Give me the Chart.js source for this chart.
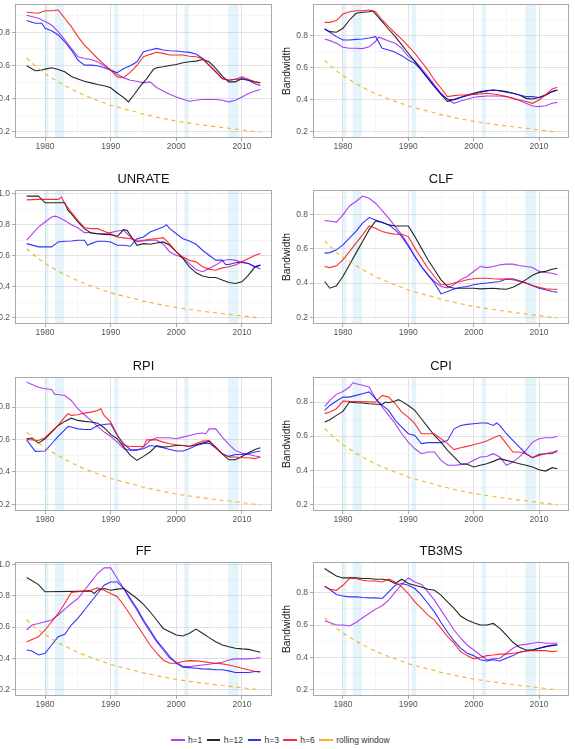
<!DOCTYPE html>
<html>
<head>
<meta charset="utf-8">
<script src="https://cdn.jsdelivr.net/npm/chart.js@4.4.1/dist/chart.umd.min.js"></script>
<style>
html,body{margin:0;padding:0;background:#fff;width:575px;height:749px;overflow:hidden;position:relative;font-family:'Liberation Sans',Arial,sans-serif}
canvas{position:absolute}
#legend{position:absolute;left:171px;top:733px;height:14px;display:flex;align-items:center;font-size:8.5px;color:#333;white-space:nowrap}
#legend .key{display:inline-block;width:13.5px;height:1.2px;margin-right:3.4px}
#legend .lab{margin-right:4.6px}
</style>
</head>
<body>
<div id="legend"></div>
<script>
// ---------------- data ----------------
const seriesNames = ['h=1', 'h=12', 'h=3', 'h=6', 'rolling window'];
const panelTitles = ['', '', 'UNRATE', 'CLF', 'RPI', 'CPI', 'FF', 'TB3MS'];
const xTickValues = [1975, 1980, 1985, 1990, 1995, 2000, 2005, 2010, 2015];
const yTickValues = [0.2, 0.3, 0.4, 0.5, 0.6, 0.7, 0.8, 0.9, 1.0];
const recessions = [[1980.0, 1980.5], [1981.5, 1982.9], [1990.5, 1991.2], [2001.2, 2001.9], [2007.9, 2009.5]];

const rolling = [[1977.2,0.645],[1978,0.615],[1979,0.58],[1980,0.55],[1981,0.525],[1982,0.50],[1983,0.478],[1984,0.457],[1985,0.437],[1986,0.42],[1987,0.404],[1988,0.389],[1989,0.375],[1990,0.36],[1991,0.349],[1992,0.338],[1993,0.328],[1994,0.318],[1995,0.306],[1996,0.297],[1997,0.288],[1998,0.28],[1999,0.272],[2000,0.264],[2001,0.258],[2002,0.252],[2003,0.246],[2004,0.241],[2005,0.235],[2006,0.23],[2007,0.225],[2008,0.221],[2009,0.216],[2010,0.211],[2011,0.206],[2012,0.201],[2012.8,0.197]];

// panel 1 (top-left)
const P1_h1 = [[1977.2,0.903],[1979,0.885],[1980,0.865],[1981,0.844],[1982,0.804],[1983,0.754],[1984,0.703],[1985,0.653],[1986,0.642],[1987,0.636],[1988,0.622],[1989,0.598],[1990,0.572],[1991,0.547],[1992,0.525],[1993,0.511],[1994,0.505],[1995,0.495],[1996,0.501],[1997,0.467],[1998,0.446],[1999,0.426],[2000,0.41],[2001,0.396],[2002,0.384],[2003,0.39],[2004,0.394],[2005,0.394],[2006,0.394],[2007,0.39],[2008,0.38],[2009,0.39],[2010,0.41],[2011,0.43],[2012,0.446],[2012.8,0.455]];
const P1_h12 = [[1977.2,0.598],[1978.5,0.568],[1979.5,0.572],[1980,0.578],[1981,0.586],[1982,0.576],[1983,0.562],[1984,0.533],[1985,0.518],[1986,0.505],[1987,0.495],[1988,0.485],[1989,0.477],[1990,0.465],[1991,0.434],[1992,0.406],[1992.7,0.38],[1993.5,0.42],[1994.5,0.475],[1995.5,0.521],[1996.5,0.576],[1997,0.586],[1998,0.592],[1999,0.60],[2000,0.606],[2001,0.616],[2002,0.622],[2003,0.626],[2004,0.636],[2005,0.622],[2006,0.582],[2007,0.535],[2008,0.501],[2009,0.501],[2010,0.521],[2011,0.511],[2012,0.501],[2012.8,0.495]];
const P1_h3 = [[1977.2,0.871],[1978.5,0.855],[1979.5,0.855],[1980,0.824],[1981,0.81],[1982,0.784],[1983,0.743],[1984,0.693],[1985,0.632],[1986,0.602],[1987,0.602],[1988,0.598],[1989,0.586],[1990,0.572],[1991,0.556],[1992,0.582],[1993,0.598],[1994,0.622],[1995,0.683],[1996,0.693],[1997,0.703],[1998,0.693],[1999,0.689],[2000,0.687],[2001,0.683],[2002,0.679],[2003,0.669],[2004,0.642],[2005,0.602],[2006,0.562],[2007,0.521],[2008,0.511],[2009,0.517],[2010,0.517],[2011,0.511],[2012,0.49],[2012.8,0.479]];
const P1_h6 = [[1977.2,0.921],[1979,0.915],[1980,0.93],[1981,0.93],[1982,0.935],[1983,0.885],[1984,0.834],[1985,0.774],[1986,0.723],[1987,0.683],[1988,0.642],[1989,0.606],[1990,0.572],[1991,0.531],[1992,0.527],[1993,0.56],[1994,0.60],[1995,0.653],[1996,0.667],[1997,0.68],[1998,0.673],[1999,0.663],[2000,0.663],[2001,0.663],[2002,0.656],[2003,0.653],[2004,0.64],[2005,0.60],[2006,0.562],[2007,0.52],[2008,0.511],[2009,0.517],[2010,0.531],[2011,0.517],[2012,0.50],[2012.8,0.497]];

// panel 2 (top-right)
const P2_h1 = [[1977.2,0.779],[1978,0.769],[1979,0.752],[1980,0.727],[1981,0.721],[1982,0.721],[1983,0.719],[1984,0.73],[1985,0.765],[1985.5,0.79],[1986,0.783],[1987,0.767],[1988,0.752],[1989,0.721],[1990,0.669],[1991,0.644],[1992,0.596],[1993,0.544],[1994,0.492],[1995,0.44],[1996,0.402],[1997,0.377],[1998,0.392],[1999,0.402],[2000,0.415],[2001,0.419],[2002,0.423],[2003,0.423],[2004,0.423],[2005,0.419],[2006,0.408],[2007,0.394],[2008,0.377],[2009,0.36],[2010,0.356],[2011,0.362],[2012,0.377],[2012.8,0.383]];
const P2_h12 = [[1977.2,0.842],[1978,0.825],[1979,0.821],[1980,0.846],[1981,0.898],[1982,0.94],[1983,0.946],[1984,0.95],[1984.5,0.956],[1985,0.935],[1986,0.888],[1987,0.84],[1988,0.794],[1989,0.742],[1990,0.69],[1991,0.638],[1992,0.585],[1993,0.533],[1994,0.481],[1995,0.433],[1996,0.388],[1997,0.402],[1998,0.415],[1999,0.429],[2000,0.44],[2001,0.45],[2002,0.456],[2003,0.46],[2004,0.456],[2005,0.45],[2006,0.44],[2007,0.429],[2008,0.408],[2009,0.404],[2010,0.413],[2011,0.429],[2012,0.45],[2012.8,0.46]];
const P2_h3 = [[1977.2,0.842],[1978,0.821],[1979,0.794],[1980,0.773],[1981,0.773],[1982,0.777],[1983,0.779],[1984,0.785],[1985,0.794],[1986,0.721],[1987,0.71],[1988,0.696],[1989,0.675],[1990,0.648],[1991,0.627],[1992,0.585],[1993,0.533],[1994,0.481],[1995,0.435],[1996,0.402],[1997,0.398],[1998,0.413],[1999,0.425],[2000,0.435],[2001,0.444],[2002,0.454],[2003,0.46],[2004,0.454],[2005,0.446],[2006,0.44],[2007,0.429],[2008,0.419],[2009,0.419],[2010,0.413],[2011,0.429],[2012,0.45],[2012.8,0.46]];
const P2_h6 = [[1977.2,0.883],[1978,0.883],[1979,0.894],[1980,0.935],[1981,0.95],[1982,0.956],[1983,0.956],[1984,0.96],[1985,0.95],[1986,0.898],[1987,0.856],[1988,0.815],[1989,0.777],[1990,0.735],[1991,0.69],[1992,0.638],[1993,0.585],[1994,0.523],[1995,0.471],[1996,0.419],[1997,0.425],[1998,0.429],[1999,0.429],[2000,0.433],[2001,0.435],[2002,0.44],[2003,0.435],[2004,0.429],[2005,0.419],[2006,0.408],[2007,0.398],[2008,0.388],[2009,0.377],[2010,0.398],[2011,0.429],[2012,0.467],[2012.8,0.477]];

// UNRATE
const P3_h1 = [[1977.2,0.70],[1979,0.785],[1980,0.818],[1981,0.85],[1981.5,0.856],[1982,0.85],[1983,0.828],[1984,0.80],[1985,0.781],[1986,0.749],[1987,0.749],[1988,0.742],[1989,0.742],[1990,0.749],[1991,0.76],[1992,0.764],[1993,0.721],[1994,0.689],[1995,0.695],[1996,0.70],[1997,0.70],[1998,0.674],[1999,0.624],[2000,0.603],[2001,0.588],[2002,0.549],[2003,0.51],[2004,0.496],[2005,0.517],[2006,0.539],[2007,0.567],[2008,0.575],[2009,0.571],[2010,0.554],[2011,0.549],[2012,0.528],[2012.8,0.513]];
const P3_h12 = [[1977.2,0.985],[1979,0.985],[1980,0.942],[1983,0.942],[1983.5,0.893],[1984,0.871],[1985,0.818],[1986,0.775],[1987,0.747],[1988,0.742],[1989,0.738],[1990,0.736],[1991,0.725],[1992,0.768],[1992.5,0.764],[1993,0.732],[1994,0.667],[1995,0.678],[1996,0.674],[1997,0.682],[1998,0.689],[1999,0.667],[2000,0.624],[2001,0.582],[2002,0.528],[2003,0.489],[2004,0.468],[2005,0.459],[2006,0.459],[2007,0.442],[2008,0.427],[2009,0.42],[2010,0.431],[2011,0.474],[2012,0.528],[2012.8,0.539]];
const P3_h3 = [[1977.2,0.678],[1979,0.657],[1981,0.657],[1982,0.689],[1983,0.693],[1984,0.695],[1985,0.70],[1986,0.70],[1986.5,0.667],[1987,0.678],[1988,0.693],[1989,0.693],[1990,0.689],[1991,0.667],[1992,0.667],[1993,0.661],[1994,0.71],[1995,0.721],[1996,0.753],[1997,0.77],[1998,0.785],[1998.5,0.80],[1999,0.775],[2000,0.742],[2001,0.71],[2002,0.695],[2003,0.674],[2004,0.635],[2005,0.603],[2006,0.571],[2007,0.571],[2007.5,0.543],[2008,0.543],[2009,0.554],[2010,0.56],[2011,0.549],[2012,0.528],[2012.8,0.539]];
const P3_h6 = [[1977.2,0.961],[1979,0.964],[1982,0.964],[1982.5,0.979],[1983,0.936],[1984,0.882],[1985,0.828],[1986,0.781],[1987,0.775],[1988,0.775],[1989,0.758],[1990,0.742],[1991,0.721],[1992,0.715],[1993,0.71],[1994,0.70],[1995,0.70],[1996,0.706],[1997,0.71],[1998,0.717],[1999,0.674],[2000,0.624],[2001,0.592],[2002,0.571],[2003,0.56],[2004,0.528],[2005,0.513],[2006,0.506],[2007,0.521],[2008,0.528],[2009,0.539],[2010,0.56],[2011,0.582],[2012,0.603],[2012.8,0.614]];

// CLF
const P4_h1 = [[1977.2,0.763],[1978,0.761],[1979,0.754],[1980,0.796],[1981,0.848],[1982,0.874],[1983,0.906],[1984,0.893],[1985,0.864],[1986,0.821],[1987,0.777],[1988,0.728],[1989,0.68],[1990,0.622],[1991,0.554],[1992,0.496],[1993,0.448],[1994,0.409],[1995,0.38],[1996,0.372],[1997,0.392],[1998,0.419],[1999,0.438],[2000,0.467],[2001,0.496],[2002,0.49],[2003,0.496],[2004,0.506],[2005,0.51],[2006,0.51],[2007,0.502],[2008,0.496],[2009,0.49],[2010,0.467],[2011,0.461],[2012,0.457],[2012.8,0.448]];
const P4_h12 = [[1977.2,0.409],[1978,0.37],[1979,0.384],[1980,0.438],[1981,0.506],[1982,0.574],[1983,0.641],[1984,0.709],[1985,0.761],[1986,0.752],[1987,0.738],[1988,0.732],[1990,0.732],[1991,0.67],[1992,0.603],[1993,0.535],[1994,0.477],[1995,0.419],[1996,0.38],[1997,0.37],[2000,0.37],[2001,0.366],[2003,0.37],[2004,0.366],[2005,0.364],[2006,0.375],[2007,0.395],[2008,0.42],[2009,0.445],[2010,0.462],[2011,0.468],[2012,0.48],[2012.8,0.486]];
const P4_h3 = [[1977.2,0.574],[1978,0.577],[1979,0.593],[1980,0.622],[1981,0.661],[1982,0.70],[1983,0.748],[1984,0.781],[1985,0.767],[1986,0.754],[1987,0.738],[1988,0.709],[1989,0.67],[1990,0.614],[1991,0.554],[1992,0.496],[1993,0.448],[1994,0.40],[1995,0.337],[1996,0.351],[1997,0.365],[1998,0.376],[1999,0.38],[2000,0.39],[2001,0.396],[2002,0.40],[2003,0.405],[2004,0.409],[2005,0.423],[2006,0.425],[2007,0.413],[2008,0.40],[2009,0.384],[2010,0.37],[2011,0.361],[2012,0.351],[2012.8,0.347]];
const P4_h6 = [[1977.2,0.496],[1978,0.49],[1979,0.50],[1980,0.535],[1981,0.583],[1982,0.632],[1983,0.68],[1984,0.732],[1985,0.719],[1986,0.70],[1987,0.69],[1988,0.684],[1989,0.684],[1990,0.67],[1991,0.603],[1992,0.545],[1993,0.486],[1994,0.438],[1995,0.39],[1996,0.39],[1997,0.40],[1998,0.409],[1999,0.419],[2000,0.425],[2001,0.428],[2002,0.428],[2003,0.425],[2004,0.423],[2005,0.423],[2006,0.419],[2007,0.409],[2008,0.40],[2009,0.386],[2010,0.376],[2011,0.366],[2012,0.364],[2012.8,0.364]];

// RPI
const P5_h1 = [[1977.2,0.954],[1979,0.923],[1980,0.913],[1981,0.909],[1981.5,0.878],[1982,0.878],[1983,0.872],[1984,0.841],[1985,0.79],[1986,0.753],[1987,0.718],[1988,0.681],[1989,0.646],[1990,0.619],[1991,0.584],[1992,0.543],[1993,0.533],[1994,0.533],[1995,0.553],[1996,0.594],[1997,0.611],[1998,0.611],[1999,0.611],[2000,0.605],[2001,0.615],[2002,0.625],[2003,0.636],[2004,0.64],[2004.5,0.636],[2005,0.666],[2006,0.666],[2007,0.615],[2008,0.57],[2009,0.533],[2010,0.516],[2011,0.508],[2012,0.498],[2012.8,0.492]];
const P5_h12 = [[1977.2,0.605],[1978,0.609],[1979,0.578],[1980,0.605],[1981,0.646],[1982,0.687],[1983,0.712],[1984,0.732],[1985,0.718],[1986,0.712],[1987,0.708],[1988,0.701],[1989,0.673],[1990,0.632],[1991,0.605],[1992,0.553],[1993,0.502],[1994,0.471],[1995,0.496],[1996,0.523],[1997,0.563],[1998,0.553],[1999,0.557],[2000,0.563],[2001,0.563],[2002,0.559],[2003,0.568],[2004,0.578],[2005,0.59],[2006,0.553],[2007,0.512],[2008,0.475],[2009,0.475],[2010,0.496],[2011,0.518],[2012,0.539],[2012.8,0.549]];
const P5_h3 = [[1977.2,0.598],[1978.5,0.527],[1980,0.529],[1981,0.574],[1982,0.619],[1983,0.66],[1983.5,0.681],[1984,0.677],[1985,0.666],[1986,0.662],[1987,0.662],[1988,0.687],[1989,0.693],[1990,0.697],[1991,0.625],[1992,0.574],[1993,0.537],[1994,0.537],[1995,0.543],[1996,0.563],[1997,0.557],[1998,0.549],[1999,0.539],[2000,0.529],[2001,0.529],[2002,0.543],[2003,0.563],[2004,0.574],[2005,0.578],[2006,0.547],[2007,0.512],[2008,0.496],[2009,0.508],[2010,0.508],[2011,0.512],[2012,0.523],[2012.8,0.529]];
const P5_h6 = [[1977.2,0.60],[1979,0.594],[1980,0.611],[1981,0.65],[1982,0.687],[1983,0.738],[1983.5,0.759],[1984,0.749],[1985,0.753],[1986,0.763],[1987,0.769],[1988,0.779],[1988.5,0.79],[1989,0.749],[1990,0.707],[1991,0.63],[1992,0.563],[1993,0.557],[1995,0.557],[1995.5,0.598],[1997,0.598],[1998,0.584],[1999,0.574],[2000,0.568],[2001,0.563],[2002,0.557],[2003,0.574],[2004,0.59],[2005,0.594],[2006,0.553],[2007,0.512],[2008,0.492],[2009,0.492],[2010,0.488],[2011,0.488],[2012,0.482],[2012.8,0.492]];

// CPI
const P6_h1 = [[1977.2,0.775],[1978,0.81],[1979,0.845],[1980,0.862],[1981,0.888],[1981.5,0.913],[1982,0.907],[1983,0.898],[1984,0.888],[1985,0.82],[1986,0.771],[1987,0.722],[1988,0.673],[1989,0.614],[1990,0.565],[1991,0.526],[1992,0.497],[1993,0.507],[1994,0.507],[1995,0.458],[1996,0.429],[1997,0.429],[1998,0.433],[1999,0.438],[2000,0.458],[2001,0.478],[2002,0.481],[2003,0.497],[2004,0.478],[2005,0.429],[2006,0.448],[2007,0.478],[2008,0.517],[2009,0.565],[2010,0.585],[2011,0.591],[2012,0.591],[2012.8,0.599]];
const P6_h12 = [[1977.2,0.683],[1978,0.696],[1979,0.722],[1980,0.745],[1981,0.80],[1982,0.796],[1983,0.794],[1984,0.79],[1986,0.786],[1986.5,0.80],[1987,0.796],[1988,0.806],[1988.5,0.814],[1989,0.804],[1990,0.78],[1991,0.751],[1992,0.702],[1993,0.653],[1994,0.604],[1995,0.565],[1996,0.517],[1997,0.478],[1998,0.438],[1999,0.435],[2000,0.419],[2001,0.429],[2002,0.438],[2003,0.452],[2004,0.468],[2005,0.458],[2006,0.448],[2007,0.438],[2008,0.429],[2009,0.419],[2010,0.403],[2011,0.395],[2012,0.415],[2012.8,0.409]];
const P6_h3 = [[1977.2,0.751],[1978,0.78],[1979,0.806],[1980,0.829],[1981,0.829],[1982,0.839],[1983,0.849],[1984,0.859],[1985,0.82],[1986,0.78],[1987,0.751],[1988,0.693],[1989,0.653],[1990,0.614],[1991,0.604],[1992,0.556],[1993,0.562],[1995,0.562],[1996,0.575],[1997,0.643],[1998,0.663],[1999,0.669],[2000,0.673],[2001,0.677],[2002,0.677],[2003,0.663],[2003.5,0.677],[2004,0.663],[2005,0.614],[2006,0.575],[2007,0.536],[2008,0.497],[2009,0.474],[2010,0.493],[2011,0.497],[2012,0.497],[2012.8,0.517]];
const P6_h6 = [[1977.2,0.732],[1978,0.741],[1979,0.761],[1980,0.806],[1981,0.804],[1985,0.80],[1986,0.839],[1987,0.829],[1988,0.79],[1989,0.741],[1990,0.712],[1991,0.673],[1992,0.614],[1994,0.614],[1995,0.585],[1996,0.556],[1997,0.521],[1998,0.532],[1999,0.54],[2000,0.55],[2001,0.56],[2002,0.571],[2003,0.591],[2004,0.605],[2005,0.556],[2006,0.507],[2007,0.507],[2008,0.497],[2009,0.474],[2010,0.487],[2011,0.497],[2012,0.507],[2012.8,0.507]];

// FF
const P7_h1 = [[1977.2,0.581],[1978,0.613],[1979,0.623],[1980,0.634],[1981,0.645],[1982,0.677],[1983,0.715],[1984,0.751],[1985,0.783],[1986,0.836],[1987,0.889],[1988,0.943],[1989,0.979],[1990,0.979],[1991,0.911],[1992,0.847],[1993,0.772],[1994,0.709],[1995,0.634],[1996,0.57],[1997,0.506],[1998,0.453],[1999,0.40],[2000,0.375],[2001,0.347],[2002,0.347],[2003,0.351],[2004,0.357],[2005,0.362],[2006,0.368],[2007,0.374],[2008,0.389],[2009,0.396],[2011,0.396],[2012,0.40],[2012.8,0.404]];
const P7_h12 = [[1977.2,0.917],[1979,0.872],[1980,0.826],[1987,0.83],[1987.5,0.815],[1988,0.836],[1989,0.847],[1990,0.836],[1991,0.843],[1992,0.847],[1993,0.815],[1994,0.783],[1995,0.745],[1996,0.698],[1997,0.645],[1998,0.591],[1999,0.57],[2000,0.549],[2001,0.543],[2002,0.56],[2003,0.587],[2004,0.56],[2005,0.532],[2006,0.506],[2007,0.485],[2008,0.474],[2009,0.464],[2010,0.46],[2011,0.457],[2012,0.447],[2012.8,0.438]];
const P7_h3 = [[1977.2,0.453],[1978,0.447],[1979,0.421],[1980,0.432],[1981,0.485],[1982,0.538],[1983,0.553],[1984,0.613],[1985,0.655],[1986,0.709],[1987,0.762],[1988,0.815],[1989,0.868],[1990,0.889],[1991,0.889],[1992,0.847],[1993,0.783],[1994,0.719],[1995,0.645],[1996,0.581],[1997,0.513],[1998,0.464],[1999,0.411],[2000,0.368],[2001,0.343],[2002,0.34],[2003,0.336],[2004,0.332],[2005,0.33],[2006,0.326],[2007,0.326],[2008,0.319],[2009,0.309],[2011,0.309],[2012,0.315],[2012.8,0.315]];
const P7_h6 = [[1977.2,0.506],[1979,0.538],[1980,0.581],[1981,0.634],[1982,0.687],[1983,0.751],[1984,0.821],[1985,0.826],[1986,0.83],[1987,0.836],[1988,0.851],[1989,0.836],[1990,0.815],[1991,0.794],[1992,0.74],[1993,0.677],[1994,0.613],[1995,0.549],[1996,0.485],[1997,0.432],[1998,0.389],[1999,0.368],[2000,0.368],[2001,0.379],[2002,0.385],[2003,0.383],[2004,0.379],[2005,0.372],[2006,0.368],[2007,0.364],[2008,0.357],[2009,0.347],[2010,0.336],[2011,0.326],[2012,0.315],[2012.8,0.311]];

// TB3MS
const P8_h1 = [[1977.2,0.625],[1978,0.616],[1979,0.60],[1980,0.60],[1981,0.594],[1982,0.616],[1983,0.645],[1984,0.672],[1985,0.699],[1986,0.72],[1987,0.755],[1988,0.806],[1989,0.852],[1990,0.893],[1991,0.868],[1992,0.852],[1993,0.806],[1994,0.755],[1995,0.693],[1996,0.631],[1997,0.569],[1998,0.518],[1999,0.476],[2000,0.445],[2001,0.414],[2002,0.384],[2003,0.39],[2004,0.394],[2005,0.425],[2006,0.456],[2007,0.476],[2008,0.48],[2009,0.487],[2010,0.493],[2011,0.487],[2012.8,0.487]];
const P8_h12 = [[1977.2,0.951],[1978,0.93],[1979,0.905],[1980,0.893],[1982,0.893],[1983,0.889],[1984,0.889],[1985,0.885],[1986,0.885],[1987,0.878],[1988,0.858],[1989,0.885],[1990,0.858],[1991,0.847],[1992,0.837],[1993,0.823],[1994,0.816],[1995,0.786],[1996,0.744],[1997,0.703],[1998,0.656],[1999,0.631],[2000,0.614],[2001,0.60],[2002,0.60],[2003,0.61],[2004,0.579],[2005,0.538],[2006,0.493],[2007,0.462],[2008,0.445],[2009,0.445],[2010,0.456],[2011,0.466],[2012,0.472],[2012.8,0.476]];
const P8_h3 = [[1977.2,0.841],[1978,0.821],[1979,0.79],[1980,0.781],[1981,0.775],[1982,0.775],[1983,0.771],[1984,0.769],[1985,0.769],[1986,0.765],[1987,0.806],[1988,0.847],[1989,0.858],[1990,0.847],[1991,0.827],[1992,0.786],[1993,0.734],[1994,0.682],[1995,0.616],[1996,0.555],[1997,0.501],[1998,0.456],[1999,0.425],[2000,0.41],[2001,0.384],[2002,0.377],[2003,0.384],[2004,0.377],[2005,0.394],[2006,0.41],[2007,0.431],[2008,0.439],[2009,0.445],[2010,0.456],[2011,0.466],[2012,0.476],[2012.8,0.476]];
const P8_h6 = [[1977.2,0.841],[1978,0.823],[1979,0.816],[1980,0.847],[1981,0.889],[1982,0.889],[1983,0.878],[1984,0.874],[1985,0.874],[1986,0.868],[1987,0.885],[1988,0.868],[1989,0.837],[1990,0.796],[1991,0.744],[1992,0.703],[1993,0.662],[1994,0.631],[1995,0.579],[1996,0.528],[1997,0.487],[1998,0.435],[1999,0.41],[2000,0.39],[2001,0.398],[2002,0.41],[2003,0.414],[2004,0.419],[2005,0.419],[2006,0.425],[2007,0.431],[2008,0.439],[2009,0.441],[2011,0.441],[2012,0.435],[2012.8,0.439]];

const panelSeries = [
  [P1_h1, P1_h12, P1_h3, P1_h6],
  [P2_h1, P2_h12, P2_h3, P2_h6],
  [P3_h1, P3_h12, P3_h3, P3_h6],
  [P4_h1, P4_h12, P4_h3, P4_h6],
  [P5_h1, P5_h12, P5_h3, P5_h6],
  [P6_h1, P6_h12, P6_h3, P6_h6],
  [P7_h1, P7_h12, P7_h3, P7_h6],
  [P8_h1, P8_h12, P8_h3, P8_h6]
];

// ---------------- layout / styles ----------------
const seriesColors = ['rgba(160,32,240,0.85)', 'rgba(0,0,0,0.85)', 'rgba(0,0,255,0.8)', 'rgba(255,0,0,0.82)', 'rgba(245,165,0,0.85)'];
const yRanges = [[0.162,0.971],[0.160,0.998],[0.158,1.025],[0.162,0.941],[0.159,0.986],[0.161,0.947],[0.158,1.017],[0.159,0.992]];
const X_MIN = 1975.42, X_MAX = 2014.58;
const colLeft = [15, 313], colWidth = [257, 256];
const rowTop = [4, 190, 377, 562], plotH = 134;
const AXW = 40, TOPPAD = 22, XAXH = 16, RPAD = 3;

Chart.defaults.font.family = "'Liberation Sans', Arial, sans-serif";
Chart.defaults.animation = false;

const isMajorY = v => Math.round(v * 10) % 2 === 0;
const isMajorX = v => Math.round(v) % 10 === 0;

const shadePlugin = {
  id: 'shade',
  beforeDatasetsDraw(chart) {
    const {ctx, chartArea: a, scales: {x}} = chart;
    ctx.save();
    ctx.beginPath();
    ctx.rect(a.left, a.top, a.right - a.left, a.bottom - a.top);
    ctx.clip();
    ctx.fillStyle = 'rgba(135,206,235,0.22)';
    for (const [s, e] of recessions) {
      const x0 = x.getPixelForValue(s), x1 = x.getPixelForValue(e);
      ctx.fillRect(x0, a.top, x1 - x0, a.bottom - a.top);
    }
    ctx.restore();
  }
};
const framePlugin = {
  id: 'frame',
  afterDraw(chart) {
    const {ctx, chartArea: a} = chart;
    ctx.save();
    ctx.strokeStyle = '#a8a8a8';
    ctx.lineWidth = 1;
    ctx.strokeRect(Math.round(a.left) + 0.5, Math.round(a.top) + 0.5, Math.round(a.right - a.left) - 1, Math.round(a.bottom - a.top) - 1);
    ctx.restore();
  }
};

const toXY = arr => arr.map(p => ({x: p[0], y: p[1]}));

panelSeries.forEach((series, i) => {
  const col = i % 2, row = Math.floor(i / 2);
  const title = panelTitles[i];
  const cv = document.createElement('canvas');
  const w = AXW + colWidth[col] + RPAD, h = TOPPAD + plotH + XAXH;
  cv.width = w; cv.height = h;
  cv.style.width = w + 'px'; cv.style.height = h + 'px';
  cv.style.left = (colLeft[col] - AXW) + 'px';
  cv.style.top = (rowTop[row] - TOPPAD) + 'px';
  document.body.appendChild(cv);

  const lineDs = (data, k) => ({
    label: seriesNames[k], data: toXY(data), borderColor: seriesColors[k],
    borderWidth: 1.1, pointRadius: 0, tension: 0, fill: false
  });
  // draw order: first dataset is on top in Chart.js
  const datasets = [
    Object.assign(lineDs(rolling, 4), {borderDash: [4, 4], borderWidth: 1.1}),
    lineDs(series[3], 3),
    lineDs(series[2], 2),
    lineDs(series[1], 1),
    lineDs(series[0], 0)
  ];

  new Chart(cv, {
    type: 'line',
    data: {datasets},
    plugins: [shadePlugin, framePlugin],
    options: {
      responsive: false,
      animation: false,
      layout: {padding: {top: title ? 0 : TOPPAD, right: RPAD, left: 0, bottom: 0}},
      plugins: {
        legend: {display: false},
        tooltip: {enabled: false},
        title: {
          display: !!title, text: title, fullSize: false, color: '#111',
          font: {size: 12.9, weight: 'normal', lineHeight: 1.2},
          padding: {top: 3.3, bottom: 3.2}
        }
      },
      scales: {
        x: {
          type: 'linear', min: X_MIN, max: X_MAX,
          afterBuildTicks: s => { s.ticks = xTickValues.filter(v => v >= s.min && v <= s.max).map(v => ({value: v})); },
          afterFit: s => { s.height = XAXH; },
          border: {display: false},
          grid: {
            color: c => (c.tick && isMajorX(c.tick.value)) ? '#e1e1e1' : '#f0f0f0',
            lineWidth: c => (c.tick && isMajorX(c.tick.value)) ? 1 : 0.6,
            tickColor: c => (c.tick && isMajorX(c.tick.value)) ? '#a8a8a8' : 'rgba(0,0,0,0)',
            tickLength: 3, drawTicks: true
          },
          ticks: {
            autoSkip: false, maxRotation: 0, padding: 1, color: '#555',
            font: {size: 8.5},
            callback: v => isMajorX(v) ? String(Math.round(v)) : ''
          }
        },
        y: {
          type: 'linear', min: yRanges[i][0], max: yRanges[i][1],
          afterBuildTicks: s => { s.ticks = yTickValues.filter(v => v >= s.min && v <= s.max).map(v => ({value: v})); },
          afterFit: s => { s.width = AXW; },
          border: {display: false},
          title: {display: true, text: 'Bandwidth', color: '#222', font: {size: 10.3, lineHeight: 1.2}, padding: {top: 7.8, bottom: 0}},
          grid: {
            color: c => (c.tick && isMajorY(c.tick.value)) ? '#e1e1e1' : '#f0f0f0',
            lineWidth: c => (c.tick && isMajorY(c.tick.value)) ? 1 : 0.6,
            tickColor: c => (c.tick && isMajorY(c.tick.value)) ? '#a8a8a8' : 'rgba(0,0,0,0)',
            tickLength: 3, drawTicks: true
          },
          ticks: {
            autoSkip: false, padding: 2, color: '#555',
            font: {size: 8.5},
            callback: v => isMajorY(v) ? v.toFixed(1) : ''
          }
        }
      }
    }
  });
});

// legend
const lg = document.getElementById('legend');
seriesNames.forEach((n, k) => {
  const key = document.createElement('span');
  key.className = 'key';
  key.style.background = seriesColors[k];
  const lab = document.createElement('span');
  lab.className = 'lab';
  lab.textContent = n;
  lg.appendChild(key);
  lg.appendChild(lab);
});
</script>
</body>
</html>
